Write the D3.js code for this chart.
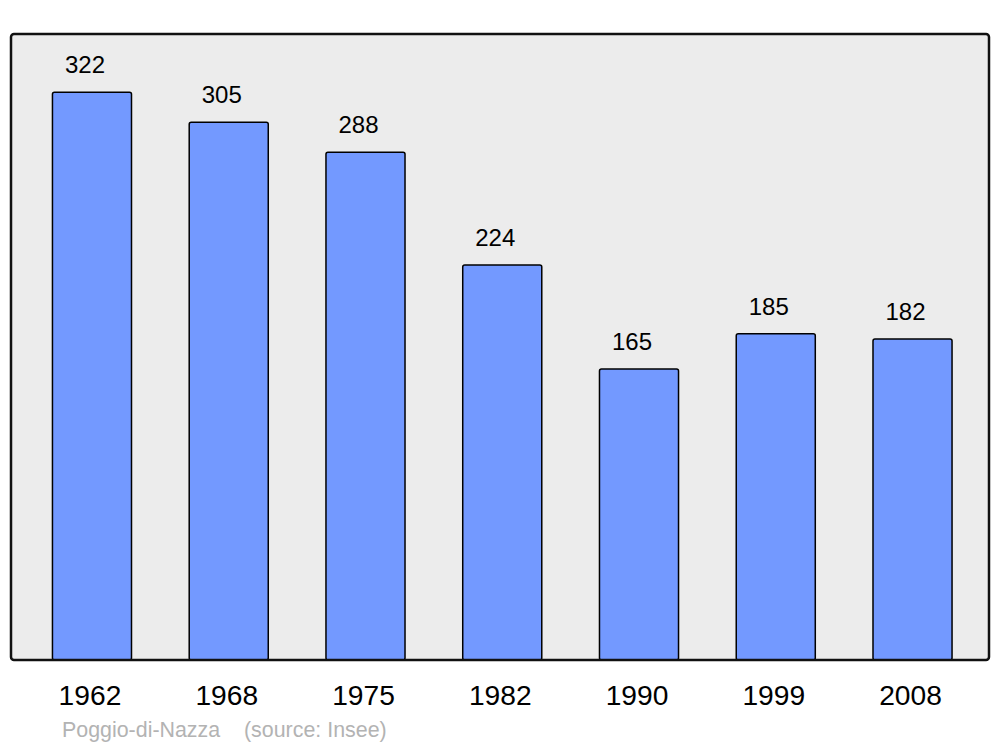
<!DOCTYPE html>
<html>
<head>
<meta charset="utf-8">
<script src="https://cdn.jsdelivr.net/npm/d3@7"></script>
<style>
  body { margin: 0; background: #fff; }
  text { font-family: "Liberation Sans", Arial, sans-serif; }
</style>
</head>
<body>
<div id="chart"></div>
<script>
// data
var years = ["1962", "1968", "1975", "1982", "1990", "1999", "2008"];
var population = [322, 305, 288, 224, 165, 185, 182];
var commune = "Poggio-di-Nazza";
var source = "(source: Insee)";

var width = 1000,
    height = 747;

var svg = d3.select("#chart")
  .append("svg")
  .attr("width", width)
  .attr("height", height);

// panel
var panel = { left: 11, top: 34, right: 989, bottom: 660 };

svg.append("rect")
  .attr("x", panel.left)
  .attr("y", panel.top)
  .attr("width", panel.right - panel.left)
  .attr("height", panel.bottom - panel.top)
  .attr("rx", 3)
  .attr("fill", "#ececec");

// scales
var x = d3.scaleBand()
  .domain(years)
  .range([23.6, 980.9])
  .paddingInner(0.422)
  .paddingOuter(0.211);

var y = d3.scaleLinear()
  .domain([0, 355])
  .range([panel.bottom, panel.top]);

var data = years.map(function(d, i){ return { year: d, value: population[i] }; });

// bars
svg.selectAll("rect.bar")
  .data(data)
  .enter()
  .append("rect")
    .attr("class", "bar")
    .attr("x", function(d){ return x(d.year); })
    .attr("y", function(d){ return y(d.value); })
    .attr("width", x.bandwidth())
    .attr("height", function(d){ return y(0) - y(d.value); })
    .attr("rx", 2)
    .attr("fill", "#7399ff")
    .attr("stroke", "#000")
    .attr("stroke-width", 1.5);

// panel border on top of bars
svg.append("rect")
  .attr("x", panel.left)
  .attr("y", panel.top)
  .attr("width", panel.right - panel.left)
  .attr("height", panel.bottom - panel.top)
  .attr("rx", 3)
  .attr("fill", "none")
  .attr("stroke", "#111")
  .attr("stroke-width", 2.5);

// value labels
svg.selectAll("text.value")
  .data(data)
  .enter()
  .append("text")
    .attr("class", "value")
    .attr("x", function(d){ return x(d.year) + x.bandwidth() / 2 - 7; })
    .attr("y", function(d){ return y(d.value) - 19; })
    .attr("text-anchor", "middle")
    .attr("font-size", "24px")
    .attr("fill", "#000")
    .text(function(d){ return d.value; });

// x axis labels
var xAxis = d3.axisBottom(x).tickSize(0).tickPadding(0);
var gx = svg.append("g")
  .attr("transform", "translate(0," + panel.bottom + ")")
  .call(xAxis);
gx.select(".domain").remove();
gx.selectAll("text")
  .attr("dy", null)
  .attr("y", 44.5)
  .attr("x", -2)
  .attr("font-size", "28.2px")
  .attr("font-family", "Liberation Sans, Arial, sans-serif")
  .attr("fill", "#000");

// footer
svg.append("text")
  .attr("x", 62)
  .attr("y", 737)
  .attr("font-size", "21.4px")
  .attr("fill", "#b3b3b3")
  .text(commune);

svg.append("text")
  .attr("x", 244)
  .attr("y", 737)
  .attr("font-size", "21.4px")
  .attr("fill", "#b3b3b3")
  .text(source);
</script>
</body>
</html>
